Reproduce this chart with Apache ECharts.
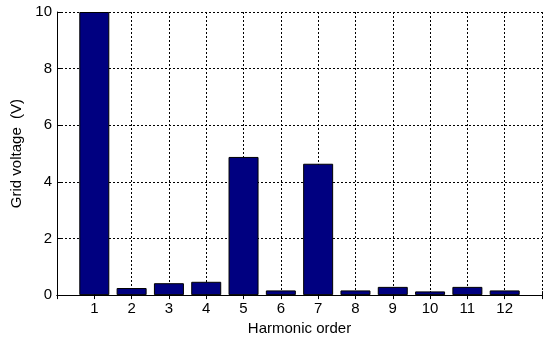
<!DOCTYPE html>
<html><head><meta charset="utf-8">
<script src="https://cdn.jsdelivr.net/npm/echarts@6/dist/echarts.min.js"></script>
<style>html,body{margin:0;padding:0;background:#fff}#c{width:545px;height:341px}</style>
</head><body><div id="c"></div>
<script>
const harmonics = [1,2,3,4,5,6,7,8,9,10,11,12];
const voltages = [10,0.25,0.42,0.47,4.88,0.165,4.64,0.165,0.29,0.13,0.29,0.165];
const yTicks = [0,2,4,6,8,10];
const xLabel = 'Harmonic order';
const yLabel = 'Grid voltage  (V)';

const font = 'Liberation Sans, Arial, sans-serif';
const chart = echarts.init(document.getElementById('c'));
const dotted = {type:[2,2], color:'#000', width:1};
chart.setOption({
  animation:false,
  grid:{left:57, top:12, right:-1, bottom:45},
  xAxis:[{
    type:'value', min:0, max:13, interval:1,
    name:xLabel, nameLocation:'middle', nameGap:25,
    nameTextStyle:{fontFamily:font, fontSize:15, color:'#000'},
    axisLine:{onZero:false, lineStyle:{color:'#000', width:1}},
    axisTick:{inside:true, length:4, lineStyle:{color:'#000'}},
    axisLabel:{fontFamily:font, fontSize:15, color:'#000', margin:6,
      formatter:v => harmonics.includes(v) ? String(v) : ''},
    splitLine:{show:true, lineStyle:dotted}
  },{
    type:'value', position:'top', min:0, max:13, interval:1,
    axisLine:{lineStyle:{color:'#000', width:1}},
    axisTick:{inside:true, length:4, lineStyle:{color:'#000'}},
    axisLabel:{show:false}, splitLine:{show:false}
  }],
  yAxis:{
    type:'value', min:0, max:10, interval:2,
    name:yLabel, nameLocation:'middle', nameGap:32,
    nameTextStyle:{fontFamily:font, fontSize:15, color:'#000'},
    axisLine:{show:true, lineStyle:{color:'#000', width:1}},
    axisTick:{show:true, inside:true, length:4, lineStyle:{color:'#000'}},
    axisLabel:{fontFamily:font, fontSize:15, color:'#000', margin:5,
      formatter:v => yTicks.includes(v) ? String(v) : ''},
    splitLine:{show:true, lineStyle:dotted}
  },
  series:[{
    type:'bar', xAxisIndex:0, barWidth:30,
    data:harmonics.map((h,i)=>[h, voltages[i]]),
    itemStyle:{color:'#000080', borderColor:'#000', borderWidth:1},
    z:3
  }]
});
</script></body></html>
